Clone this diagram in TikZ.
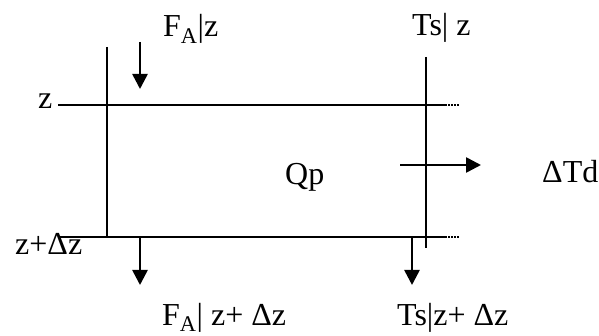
\documentclass[tikz,border=0pt]{standalone}
\usepackage{fontspec}
\setmainfont{Liberation Serif}
\usetikzlibrary{arrows.meta}
\begin{document}
\begin{tikzpicture}[x=1pt,y=-1pt,
  lbl/.style={anchor=base west,inner sep=0pt,font=\fontsize{32}{36}\selectfont},
  edge/.style={line width=1.5pt},
  flow/.style={line width=2.6pt,-{Triangle[width=15pt,length=15pt]}},
  dots/.style={line width=1.5pt,dash pattern=on 1.5pt off 1.5pt}]
\useasboundingbox (0,0) rectangle (599,336);
% frame coordinates
\coordinate (tl) at (58,105);
\coordinate (tr) at (445,105);
\coordinate (tre) at (459,105);
\coordinate (bl) at (60,237);
\coordinate (br) at (445,237);
\coordinate (bre) at (459,237);
\coordinate (lt) at (107,47);
\coordinate (lb) at (107,237);
\coordinate (rt) at (426,57);
\coordinate (rb) at (426,248);
\draw[edge] (tl) -- (tr);
\draw[dots] (tr) -- (tre);
\draw[edge] (bl) -- (br);
\draw[dots] (br) -- (bre);
\draw[edge] (lt) -- (lb);
\draw[edge] (rt) -- (rb);
% arrows
\coordinate (a1s) at (140,42);
\coordinate (a1e) at (140,89);
\coordinate (a2s) at (140,237);
\coordinate (a2e) at (140,285);
\coordinate (a3s) at (412,237);
\coordinate (a3e) at (412,285);
\coordinate (a4s) at (400,165);
\coordinate (a4e) at (481,165);
\draw[flow] (a1s) -- (a1e);
\draw[flow] (a2s) -- (a2e);
\draw[flow] (a3s) -- (a3e);
\draw[flow] (a4s) -- (a4e);
% labels
\node[lbl] (fz) at (163,37) {F\textsubscript{A}|z};
\node[lbl] (tz) at (412,36) {Ts| z};
\node[lbl] (zl) at (38,109) {z};
\node[lbl] (zdl) at (15,255) {z+Δz};
\node[lbl] (qp) at (285,185) {Qp};
\node[lbl] (td) at (542,183) {ΔTd};
\node[lbl] (fzd) at (162,325) {F\textsubscript{A}| z+ Δz};
\node[lbl] (tzd) at (397,325) {Ts|z+ Δz};
\end{tikzpicture}
\end{document}
